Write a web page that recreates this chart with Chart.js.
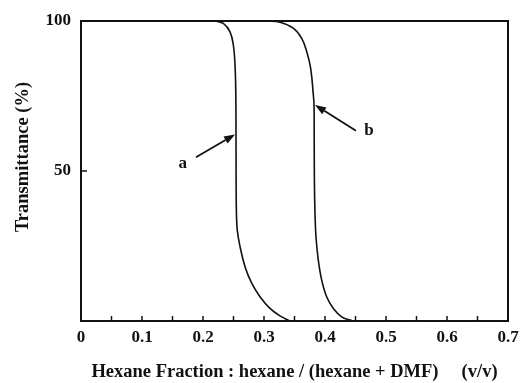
<!DOCTYPE html>
<html>
<head>
<meta charset="utf-8">
<script src="https://cdn.jsdelivr.net/npm/chart.js@4/dist/chart.umd.min.js"></script>
<style>
  body { margin: 0; background: #fff; }
  #wrap { width: 523px; height: 383px; }
</style>
</head>
<body>
<div id="wrap"><canvas id="grafico"></canvas></div>
<script>
// curva a
const hexA = [0.2197, 0.2333, 0.2443, 0.2497, 0.2525, 0.2538, 0.2541, 0.2543, 0.2548, 0.2562, 0.2607, 0.2689, 0.2798, 0.2934, 0.3098, 0.3262, 0.3426];
const transA = [100, 99.2, 96.4, 92, 85.3, 75.3, 62, 47, 36, 30.3, 24.8, 18.1, 12.6, 8.1, 4.2, 1.7, 0];
// curva b
const hexB = [0.3044, 0.3262, 0.348, 0.3618, 0.37, 0.3765, 0.3809, 0.382, 0.3823, 0.3826, 0.3836, 0.3852, 0.389, 0.3945, 0.4027, 0.4137, 0.4273, 0.441, 0.447];
const transB = [100, 99.6, 97.6, 94.2, 89.8, 84.2, 75.3, 72, 62, 47, 35.9, 28.1, 20.3, 13.7, 8.1, 4.2, 1.4, 0.3, 0];

// setas e rótulos (coordenadas em unidades dos dados)
const rotulos = ['a', 'b'];
const rotuloX = [0.167, 0.472];
const rotuloY = [52.6, 63.3];
const setaDeX = [0.1885, 0.4508];
const setaDeY = [54.6, 63.4];
const setaAteX = [0.2525, 0.3836];
const setaAteY = [62.2, 72];

const fonte = '"Liberation Serif", "Times New Roman", serif';

function pontos(xs, ys) {
  return xs.map((x, i) => ({ x: x, y: ys[i] }));
}

const extras = {
  id: 'extras',
  afterDraw(chart) {
    const c = chart.ctx;
    const a = chart.chartArea;
    const sx = chart.scales.x, sy = chart.scales.y;
    c.save();
    c.strokeStyle = '#111';
    c.fillStyle = '#111';
    // moldura
    c.lineWidth = 2;
    c.strokeRect(a.left, a.top, a.right - a.left, a.bottom - a.top);
    // marcas para dentro
    c.lineWidth = 1.5;
    sx.ticks.forEach(t => {
      const px = sx.getPixelForValue(t.value);
      if (px <= a.left + 1 || px >= a.right - 1) return;
      c.beginPath(); c.moveTo(px, a.bottom); c.lineTo(px, a.bottom - 5); c.stroke();
    });
    sy.ticks.forEach(t => {
      const py = sy.getPixelForValue(t.value);
      if (py <= a.top + 1 || py >= a.bottom - 1) return;
      c.beginPath(); c.moveTo(a.left, py); c.lineTo(a.left + 6, py); c.stroke();
    });
    // setas
    for (let i = 0; i < rotulos.length; i++) {
      const x0 = sx.getPixelForValue(setaDeX[i]), y0 = sy.getPixelForValue(setaDeY[i]);
      const x1 = sx.getPixelForValue(setaAteX[i]), y1 = sy.getPixelForValue(setaAteY[i]);
      const ang = Math.atan2(y1 - y0, x1 - x0);
      const L = 11, W = 4;
      const bx = x1 - L * Math.cos(ang), by = y1 - L * Math.sin(ang);
      c.lineWidth = 1.8;
      c.beginPath(); c.moveTo(x0, y0); c.lineTo(bx, by); c.stroke();
      c.beginPath();
      c.moveTo(x1, y1);
      c.lineTo(bx + W * Math.sin(ang), by - W * Math.cos(ang));
      c.lineTo(bx - W * Math.sin(ang), by + W * Math.cos(ang));
      c.closePath(); c.fill();
      c.font = 'bold 17px ' + fonte;
      c.textAlign = 'center';
      c.textBaseline = 'middle';
      c.fillText(rotulos[i], sx.getPixelForValue(rotuloX[i]), sy.getPixelForValue(rotuloY[i]));
    }
    // título do eixo y
    c.translate(23, 157);
    c.rotate(-Math.PI / 2);
    c.font = 'bold 18.5px ' + fonte;
    c.textAlign = 'center';
    c.textBaseline = 'middle';
    c.fillText('Transmittance (%)', 0, 0);
    c.restore();
  }
};

const ctx = document.getElementById('grafico').getContext('2d');
new Chart(ctx, {
  type: 'scatter',
  data: {
    datasets: [
      { label: 'a', data: pontos(hexA, transA) },
      { label: 'b', data: pontos(hexB, transB) }
    ]
  },
  options: {
    responsive: true,
    maintainAspectRatio: false,
    animation: false,
    showLine: true,
    layout: { padding: { top: 21, right: 15, left: 0, bottom: 0 } },
    elements: {
      point: { radius: 0, hoverRadius: 0 },
      line: { borderColor: '#111', borderWidth: 1.6, tension: 0.4, fill: false }
    },
    plugins: { legend: { display: false }, tooltip: { enabled: false } },
    scales: {
      x: {
        type: 'linear', min: 0, max: 0.7,
        grid: { display: false, drawTicks: false },
        border: { display: false },
        afterFit(s) { s.height = 62; s.paddingLeft = 0; s.paddingRight = 0; },
        ticks: {
          stepSize: 0.05, autoSkip: false, maxRotation: 0, padding: 6,
          color: '#111', font: { family: fonte, size: 17, weight: 'bold' },
          callback: v => {
            const k = Math.round(v * 100);
            return k % 10 === 0 ? String(k / 100) : '';
          }
        },
        title: {
          display: true, color: '#111',
          text: 'Hexane Fraction : hexane / (hexane + DMF)     (v/v)',
          font: { family: fonte, size: 18.5, weight: 'bold' },
          padding: { top: 0, bottom: 0 }
        }
      },
      y: {
        min: 0, max: 100,
        grid: { display: false, drawTicks: false },
        border: { display: false },
        afterFit(s) { s.width = 81; },
        ticks: {
          stepSize: 50, padding: 10,
          color: '#111', font: { family: fonte, size: 17, weight: 'bold' },
          callback: v => v === 0 ? '' : String(v)
        }
      }
    }
  },
  plugins: [extras]
});
</script>
</body>
</html>
